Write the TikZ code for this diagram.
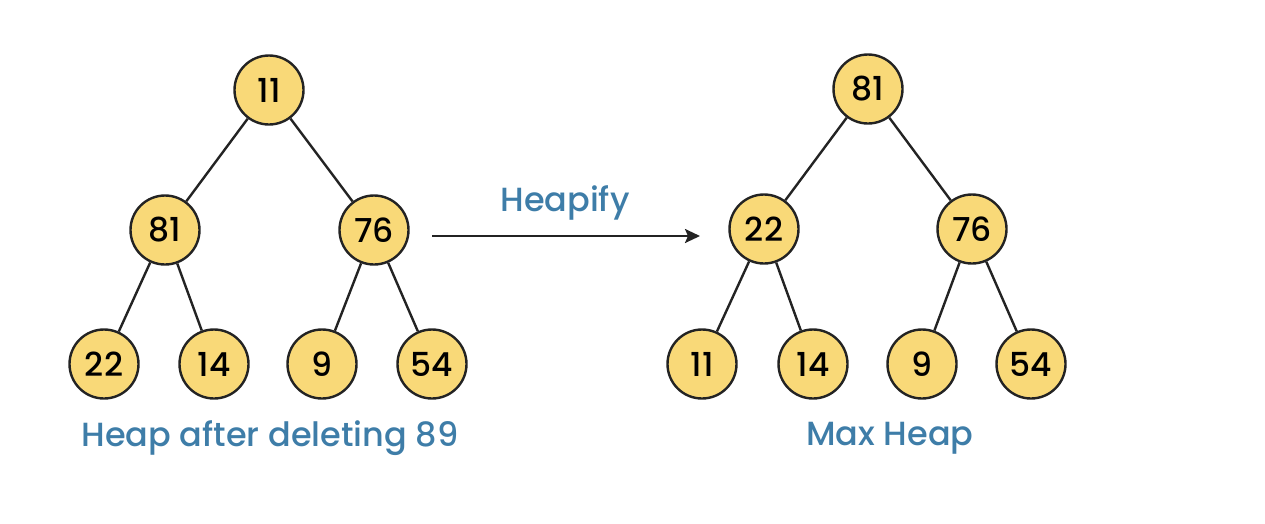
\documentclass[tikz,border=0pt]{standalone}
\usepackage{fontspec}
\setmainfont{Poppins}[UprightFont={* Medium}]
\usetikzlibrary{arrows.meta}
\definecolor{nodefill}{RGB}{249,217,120}
\definecolor{labelblue}{RGB}{62,125,168}
\definecolor{edgegray}{RGB}{35,35,35}
\begin{document}
\begin{tikzpicture}[x=1pt,y=-1pt,
  hnode/.style={circle,draw=edgegray,line width=2.4pt,fill=nodefill,minimum size=69pt,inner sep=0pt,font=\fontsize{33}{33}\selectfont},
  edge/.style={draw=edgegray,line width=2.4pt},
  caption/.style={text=labelblue,font=\fontsize{33.5}{33.5}\selectfont}]
\useasboundingbox (0,0) rectangle (1265,523);
% left tree
\node[hnode] (a1) at (269,90) {11};
\node[hnode] (a2) at (165,230) {81};
\node[hnode] (a3) at (374,230) {76};
\node[hnode] (a4) at (104,364) {22};
\node[hnode] (a5) at (214,364) {14};
\node[hnode] (a6) at (322,364) {9};
\node[hnode] (a7) at (432,364) {54};
\draw[edge] (a1) -- (a2);
\draw[edge] (a1) -- (a3);
\draw[edge] (a2) -- (a4);
\draw[edge] (a2) -- (a5);
\draw[edge] (a3) -- (a6);
\draw[edge] (a3) -- (a7);
% right tree
\node[hnode] (b1) at (868,89) {81};
\node[hnode] (b2) at (764,229) {22};
\node[hnode] (b3) at (972,229) {76};
\node[hnode] (b4) at (702,364) {11};
\node[hnode] (b5) at (813,364) {14};
\node[hnode] (b6) at (922,364) {9};
\node[hnode] (b7) at (1031,364) {54};
\draw[edge] (b1) -- (b2);
\draw[edge] (b1) -- (b3);
\draw[edge] (b2) -- (b4);
\draw[edge] (b2) -- (b5);
\draw[edge] (b3) -- (b6);
\draw[edge] (b3) -- (b7);
% arrow
\coordinate (s) at (432,236);
\coordinate (e) at (700,236);
\draw[edge,-{Stealth[length=15pt,width=14pt,inset=3pt]}] (s) -- (e);
\node[caption] (h) at (565,203) {Heapify};
\node[caption] (l1) at (270,438) {Heap after deleting 89};
\node[caption] (l2) at (890,438) {Max Heap};
\end{tikzpicture}
\end{document}
